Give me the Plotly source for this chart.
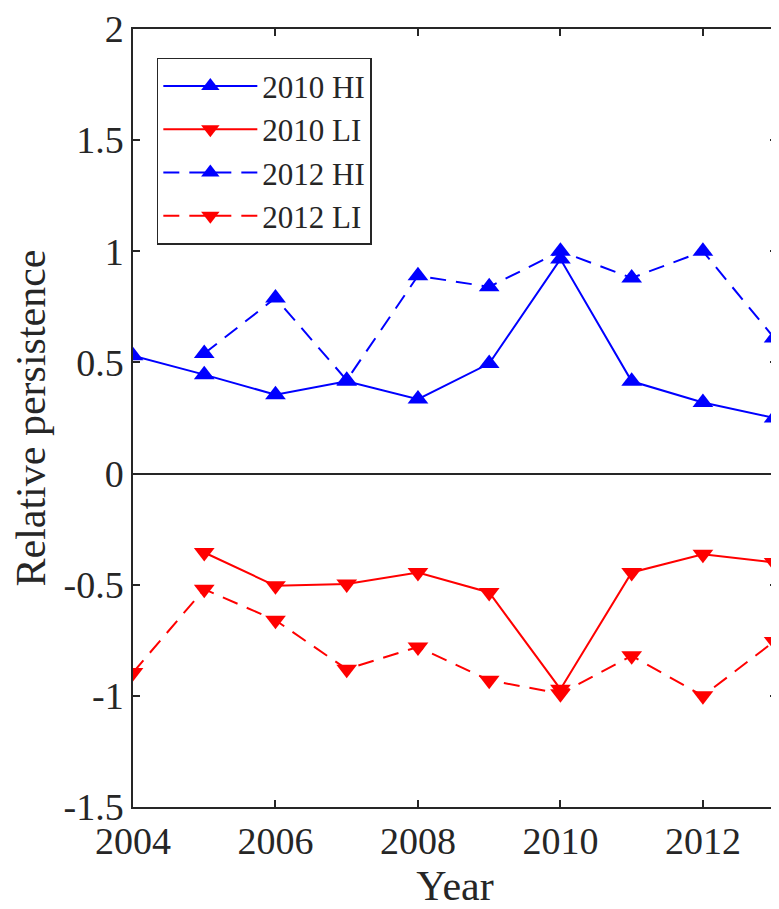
import plotly.graph_objects as go

# years on the x axis
years = [2004, 2005, 2006, 2007, 2008, 2009, 2010, 2011, 2012, 2013]

# relative persistence (None = no point that year)
hi_2010 = [0.53, 0.445, 0.355, 0.415, 0.335, 0.495, 0.965, 0.415, 0.32, 0.25]
li_2010 = [None, -0.355, -0.505, -0.497, -0.445, -0.535, -0.97, -0.445, -0.363, -0.40]
hi_2012 = [None, 0.54, 0.79, 0.42, 0.89, 0.84, 1.0, 0.88, 1.0, 0.61]
li_2012 = [-0.895, -0.52, -0.66, -0.88, -0.78, -0.93, -0.99, -0.82, -1.0, -0.755]

x_ticks = [2004, 2006, 2008, 2010, 2012]
y_ticks = [-1.5, -1, -0.5, 0, 0.5, 1, 1.5, 2]
y_ticktext = ["-1.5", "-1", "-0.5", "0", "0.5", "1", "1.5", "2"]

FONT = "Liberation Serif, Times New Roman, serif"
AX = "#262626"
BLUE = "#0000ff"
RED = "#ff0000"

series = [
    ("2010 HI", hi_2010, BLUE, "solid", "triangle-up"),
    ("2010 LI", li_2010, RED, "solid", "triangle-down"),
    ("2012 HI", hi_2012, BLUE, "16px,10px", "triangle-up"),
    ("2012 LI", li_2012, RED, "16px,10px", "triangle-down"),
]

fig = go.Figure()
for name, vals, col, dash, sym in series:
    fig.add_trace(go.Scatter(
        x=years, y=vals, name=name, mode="lines+markers",
        line=dict(color=col, width=2, dash=dash),
        marker=dict(symbol=sym, size=18, color=col),
        connectgaps=False,
    ))

# the page body adds an 8px margin, so the figure is a bit smaller than the window
fig.update_layout(
    width=771, height=901,
    margin=dict(l=125, r=0, t=18, b=102),
    plot_bgcolor="white", paper_bgcolor="white",
    font=dict(family=FONT, size=38, color=AX),
    showlegend=True,
    legend=dict(
        x=0.037, y=0.963, xanchor="left", yanchor="top",
        font=dict(family=FONT, size=31, color=AX),
        bgcolor="white", bordercolor=AX, borderwidth=1.5,
        itemwidth=94, tracegroupgap=0,
    ),
)

fig.update_xaxes(
    range=[2004, 2013.04], tickvals=x_ticks,
    showline=True, linecolor=AX, linewidth=1.5, mirror="ticks",
    ticks="inside", ticklen=7, tickcolor=AX, tickwidth=1.5,
    showgrid=False, zeroline=False, ticklabeloverflow="allow",
    title=dict(text="Year", font=dict(family=FONT, size=42, color=AX)),
)
fig.update_yaxes(
    range=[-1.5, 2], tickvals=y_ticks, ticktext=y_ticktext,
    showline=True, linecolor=AX, linewidth=1.5, mirror="ticks",
    ticks="inside", ticklen=7, tickcolor=AX, tickwidth=1.5,
    showgrid=False, zeroline=True, zerolinecolor=AX, zerolinewidth=1.5,
    ticklabeloverflow="allow",
    title=dict(text="Relative persistence", font=dict(family=FONT, size=42, color=AX)),
)

fig.write_html("out.html")
